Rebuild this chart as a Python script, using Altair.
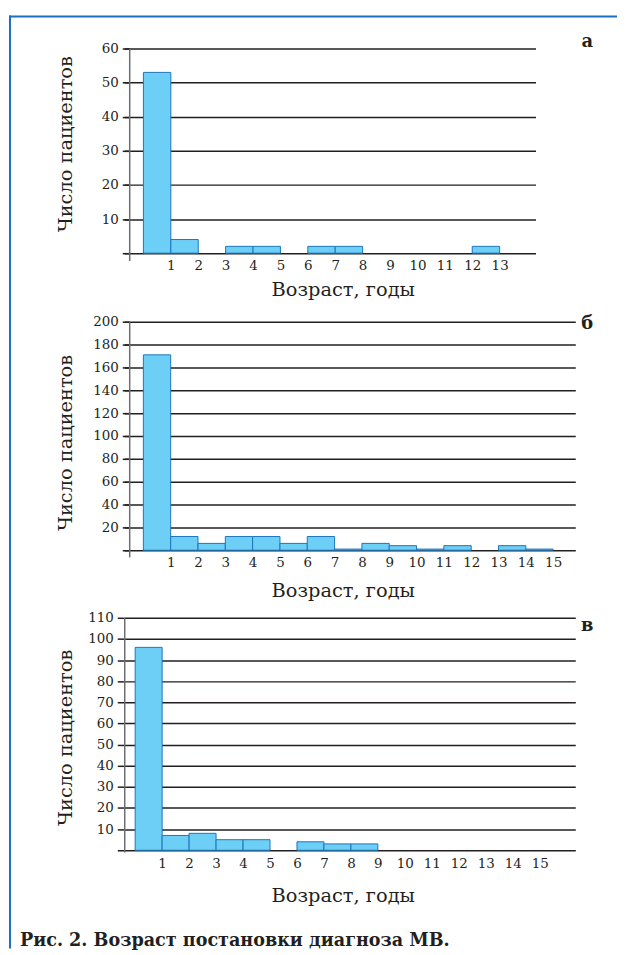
import altair as alt
import pandas as pd

# ---- data ----
ages_a = list(range(0, 13))
counts_a = [53, 4, 0, 2, 2, 0, 2, 2, 0, 0, 0, 0, 2]
ages_b = list(range(0, 15))
counts_b = [171, 12, 6, 12, 12, 6, 12, 1, 6, 4, 1, 4, 0, 4, 1]
ages_c = list(range(0, 9))
counts_c = [96, 7, 8, 5, 5, 0, 4, 3, 3]

xlabels_a = list(range(1, 14))
xlabels_b = list(range(1, 16))
xlabels_c = list(range(1, 16))
yticks_a = [0, 10, 20, 30, 40, 50, 60]
yticks_b = [0, 20, 40, 60, 80, 100, 120, 140, 160, 180, 200]
yticks_c = [0, 10, 20, 30, 40, 50, 60, 70, 80, 90, 100, 110]

panel_letters = ["а", "б", "в"]
y_title = "Число пациентов"
x_title = "Возраст, годы"
caption = "Рис. 2. Возраст постановки диагноза МВ."

FONT = "DejaVu Serif"
INK = "#231f20"
BAR_FILL = "#6dcff6"
BAR_STROKE = "#1c75bc"
FRAME = "#1b6ec2"


def panel(ages, counts, xlabels, yticks, xdom, ydom, w, h, yoff,
          ytx, yty, xlab_pad, xty, letter, letter_y, extra=()):
    df = pd.DataFrame({"start": ages, "end": [a + 1 for a in ages], "n": counts})
    df = df[df["n"] > 0]
    bars = alt.Chart(df).mark_bar(
        fill=BAR_FILL, stroke=BAR_STROKE, strokeWidth=1, opacity=1
    ).encode(
        x=alt.X("start:Q",
                scale=alt.Scale(domain=xdom, nice=False, zero=False),
                axis=alt.Axis(values=xlabels, format="d", title=x_title,
                              grid=False, domain=False, ticks=False, tickSize=0,
                              labelFont=FONT, labelFontSize=13.5, labelColor=INK,
                              labelBaseline="alphabetic", labelPadding=xlab_pad,
                              labelFlush=False, labelOverlap=False,
                              titleFont=FONT, titleFontSize=19.5,
                              titleFontWeight="normal", titleColor=INK,
                              titleX=220, titleY=xty, titleBaseline="alphabetic",
                              titleAlign="center")),
        x2="end:Q",
        y=alt.Y("n:Q",
                scale=alt.Scale(domain=ydom, nice=False, zero=False),
                axis=alt.Axis(values=yticks,
                              labelExpr="datum.value == 0 ? '' : datum.label",
                              grid=True, gridColor=INK, gridWidth=1.5, gridOpacity=1,
                              domain=True, domainColor="#6d6e71", domainWidth=1.5,
                              ticks=True, tickColor=INK, tickWidth=1.5, tickSize=7,
                              offset=yoff,
                              labelFont=FONT, labelFontSize=13.5, labelColor=INK,
                              labelPadding=4, labelBaseline="middle",
                              labelOverlap=False, labelFlush=False,
                              title=y_title, titleFont=FONT, titleFontSize=19.5,
                              titleFontWeight="normal", titleColor=INK,
                              titleAngle=270, titleAlign="center",
                              titleBaseline="alphabetic",
                              titleX=ytx, titleY=yty)),
        y2=alt.datum(0),
    )
    lab = alt.Chart(pd.DataFrame({"t": [letter]})).mark_text(
        font=FONT, fontSize=18, fontWeight="bold", color=INK,
        align="center", baseline="alphabetic"
    ).encode(x=alt.value(466), y=alt.value(letter_y), text="t:N")
    return alt.layer(bars, lab, *extra).properties(width=w, height=h)


one = pd.DataFrame({"k": [0]})
frame_top = alt.Chart(one).mark_rule(color=FRAME, strokeWidth=2).encode(
    x=alt.value(-116), x2=alt.value(496), y=alt.value(-32.2))
frame_left = alt.Chart(one).mark_rule(color=FRAME, strokeWidth=2).encode(
    x=alt.value(-115), y=alt.value(-33.2), y2=alt.value(906))
cap = alt.Chart(pd.DataFrame({"t": [caption]})).mark_text(
    font=FONT, fontSize=17.7, fontWeight="bold", color=INK,
    align="left", baseline="alphabetic"
).encode(x=alt.value(-105), y=alt.value(330.3), text="t:N")

pa = panel(ages_a, counts_a, xlabels_a, yticks_a, [-0.70, 14.31], [-2.13, 60],
           414, 213.3, -5, -58, 95.8, 8.8, 35, panel_letters[0], -1.7,
           extra=(frame_top, frame_left))
pb = panel(ages_b, counts_b, xlabels_b, yticks_b, [-0.70, 15.81], [-5.83, 200],
           454, 236.7, -5, -58, 121.5, 10.1, 40.3, panel_letters[1], 7.3)
pc = panel(ages_c, counts_c, xlabels_c, yticks_c, [-0.405, 16.32], [-0.85, 110],
           454, 235.8, 0, -53, 120.3, 15.3, 50, panel_letters[2], 13,
           extra=(cap,))

chart = alt.vconcat(pa, pb, pc, spacing=61, bounds="flush").configure(
    padding={"left": 0, "top": 2.7, "right": 0, "bottom": 0},
    background="white",
).configure_view(stroke=None)

chart.save("out.html", embed_options={"renderer": "svg", "actions": False})
